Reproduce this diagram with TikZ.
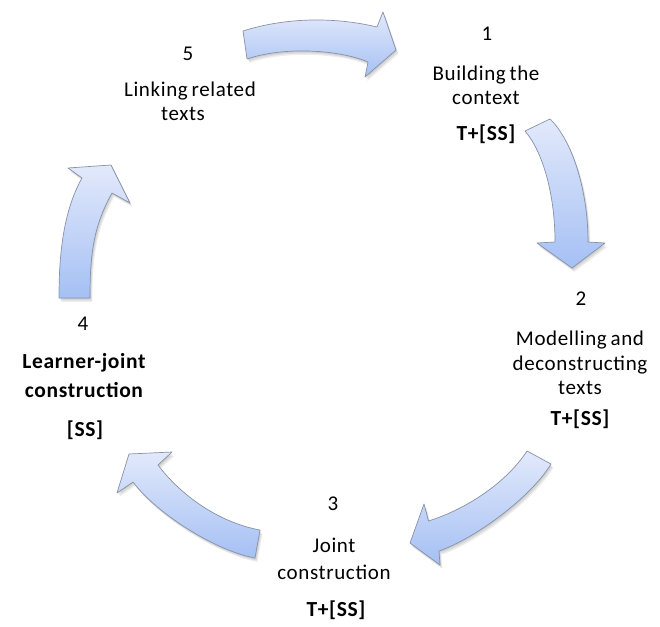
\documentclass[tikz,border=0pt]{standalone}
\usepackage{fontspec}
\setmainfont{Carlito}[LetterSpace=3,WordSpace=0.7]
\definecolor{arrtop}{RGB}{226,233,251}
\definecolor{arrbot}{RGB}{165,192,244}
\definecolor{arredge}{RGB}{135,146,168}
\tikzset{
  arrowshape/.style={top color=arrtop, bottom color=arrbot, draw=arredge, line width=0.7pt, line join=round},
  shadowshape/.style={fill=black, opacity=0.07, draw=none},
  lbl/.style={anchor=base, inner sep=0pt, font=\fontsize{21}{25}\selectfont},
  lblb/.style={anchor=base, inner sep=0pt, font=\fontsize{21.5}{25}\selectfont\bfseries},
  arrowA/.style={insert path={(243,31) .. controls (290,16) and (340,18) .. (377,27) -- (383,12) -- (396,50) -- (365,77) -- (368,62) .. controls (340,50) and (285,46) .. (247,59) -- cycle}},
  arrowB/.style={insert path={(550,119) .. controls (572,140) and (588,190) .. (588,242) -- (605,243) -- (572,268) -- (537,243) -- (555,242) .. controls (555,195) and (543,152) .. (525,131) -- cycle}},
  arrowC/.style={insert path={(527,451) .. controls (506,483) and (466.5,509) .. (428.5,521) -- (424,504) -- (410,543) -- (440,565) -- (439,551) .. controls (476,538) and (531,497) .. (551,464) -- cycle}},
  arrowD/.style={insert path={(260,530) .. controls (221,523) and (182,497) .. (158,465) -- (172,452) -- (129,454) -- (117,493) -- (133,482) .. controls (157,514) and (216,551) .. (255,558) -- cycle}},
  arrowE/.style={insert path={(59,298) .. controls (59,258) and (62.4,212.8) .. (82,178) -- (68,168) -- (111,165) -- (130,203) -- (112,193) .. controls (92.4,227.8) and (90,258) .. (90,298) -- cycle}},
}
\begin{document}
\begin{tikzpicture}[x=1pt,y=-1pt]
\useasboundingbox (0,0) rectangle (660,626);
% soft shadows
\foreach \s in {arrowA,arrowB,arrowC,arrowD,arrowE}{
  \foreach \d in {1,2,3}{
    \path[shadowshape, xshift=\d*0.8pt, yshift=-\d*1.3pt, \s];
  }
}
% arrows
\path[arrowshape, arrowA];
\path[arrowshape, arrowB];
\path[arrowshape, arrowC];
\path[arrowshape, arrowD];
\path[arrowshape, arrowE];
% stage 1
\node[lbl]  (n1)  at (487,41)  {1};
\node[lbl]  (t1a) at (486,80)  {Building the};
\node[lbl]  (t1b) at (486,104) {context};
\node[lblb] (r1)  at (486,140) {T+[SS]};
% stage 2
\node[lbl]  (n2)  at (581,305) {2};
\node[lbl]  (t2a) at (580,345) {Modelling and};
\node[lbl]  (t2b) at (580,370) {deconstructing};
\node[lbl]  (t2c) at (580,394) {texts};
\node[lblb] (r2)  at (580,425) {T+[SS]};
% stage 3
\node[lbl]  (n3)  at (333,510) {3};
\node[lbl]  (t3a) at (334,552) {Joint};
\node[lbl]  (t3b) at (334,579) {construction};
\node[lblb] (r3)  at (336,616) {T+[SS]};
% stage 4
\node[lbl]  (n4)  at (83,330)  {4};
\node[lblb] (t4a) at (84,368)  {Learner-joint};
\node[lblb] (t4b) at (84,397)  {construction};
\node[lblb] (r4)  at (85,436)  {[SS]};
% stage 5
\node[lbl]  (n5)  at (188,60)  {5};
\node[lbl]  (t5a) at (190,96)  {Linking related};
\node[lbl]  (t5b) at (183,120) {texts};
\end{tikzpicture}
\end{document}
